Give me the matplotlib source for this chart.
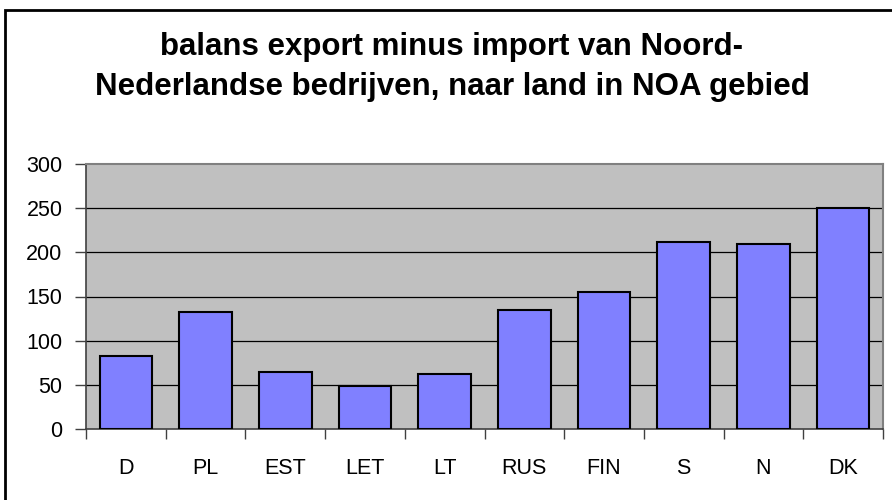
import matplotlib
matplotlib.use("Agg")
import matplotlib.pyplot as plt
from matplotlib.patches import Rectangle

categories = ["D", "PL", "EST", "LET", "LT", "RUS", "FIN", "S", "N", "DK"]
values = [83, 132, 64, 49, 62, 135, 155, 212, 209, 250]
yticks = [0, 50, 100, 150, 200, 250, 300]
title = "balans export minus import van Noord-\nNederlandse bedrijven, naar land in NOA gebied"

plt.rcParams['font.family'] = ['Liberation Sans', 'DejaVu Sans']

W, H = 892, 500
fig = plt.figure(figsize=(W / 100, H / 100), dpi=100)
fig.patch.set_facecolor("white")

# outer frame (cut off at right and bottom)
fig.add_artist(Rectangle((5 / W, -0.1), 1.2, (H - 10) / H + 0.1, transform=fig.transFigure,
                         fill=False, edgecolor="black", linewidth=2.0))

left, right, top, bottom = 86, 883, 164, 429
ax = fig.add_axes([left / W, 1 - bottom / H, (right - left) / W, (bottom - top) / H])
ax.set_facecolor("#C0C0C0")

x = list(range(len(categories)))
ax.bar(x, values, width=0.66, color="#8080FF", edgecolor="black", linewidth=1.5, zorder=3)

ax.set_xlim(-0.5, len(categories) - 0.5)
ax.set_ylim(0, 300)
ax.set_yticks(yticks)
ax.set_yticklabels([str(v) for v in yticks], fontsize=15.5)
for v in yticks[1:-1]:
    ax.axhline(v, color="black", linewidth=0.9, zorder=1)

ax.set_xticks([i - 0.5 for i in range(len(categories) + 1)])
ax.set_xticklabels([])
ax.set_xticks(x, minor=True)
ax.set_xticklabels(categories, minor=True, fontsize=15.5)
ax.tick_params(axis="x", which="minor", length=0, pad=21)
ax.tick_params(axis="x", which="major", length=7, direction="out", color="#404040", width=1)
ax.tick_params(axis="y", length=8, direction="out", color="#404040", width=1, pad=9)

for s in ["top", "right"]:
    ax.spines[s].set_color("#808080")
    ax.spines[s].set_linewidth(1.5)
for s in ["left", "bottom"]:
    ax.spines[s].set_color("#404040")
    ax.spines[s].set_linewidth(1.2)

fig.text(452 / W, 1 - 67 / H, title, ha="center", va="center",
         fontsize=22.5, fontweight="bold", linespacing=1.4)

fig.savefig("out.png", dpi=100)
